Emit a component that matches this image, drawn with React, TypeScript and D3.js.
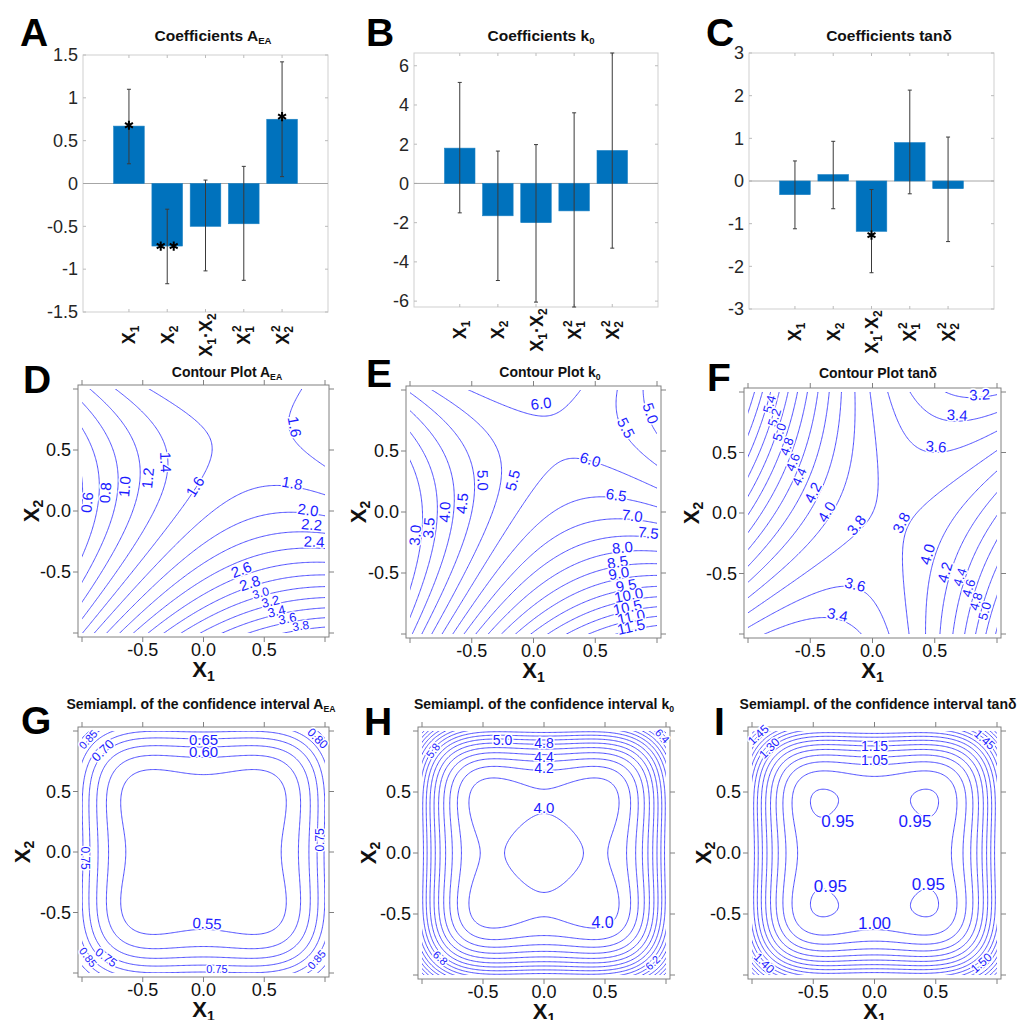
import React from "react";
import * as d3 from "d3";

const FONT = "'Liberation Sans', Arial, Helvetica, sans-serif";

// ---- model terms (coded units) ----
const terms = ["X1", "X2", "X1X2", "X1^2", "X2^2"];

// A_EA coefficients and 95% interval ends
const coefAEA = [0.67, -0.73, -0.5, -0.47, 0.75];
const lowAEA = [0.23, -1.17, -1.02, -1.13, 0.08];
const highAEA = [1.1, -0.3, 0.04, 0.2, 1.42];
const starsAEA = [1, 2, 0, 0, 1];
const starAtAEA = [0.68, -0.73, 0, 0, 0.78];

// k0 coefficients (panel B)
const coefK0 = [1.8, -1.65, -2.0, -1.4, 1.68];
const lowK0 = [-1.5, -4.95, -6.05, -6.3, -3.3];
const highK0 = [5.15, 1.65, 1.98, 3.6, 6.65];
const starsK0 = [0, 0, 0, 0, 0];
const starAtK0 = [0, 0, 0, 0, 0];

// tan delta coefficients (panel C)
const coefTan = [-0.32, 0.15, -1.18, 0.9, -0.18];
const lowTan = [-1.12, -0.65, -2.15, -0.3, -1.42];
const highTan = [0.47, 0.93, -0.2, 2.13, 1.03];
const starsTan = [0, 0, 1, 0, 0];
const starAtTan = [0, 0, -1.27, 0, 0];

// bar axis ticks
const ticksAEA = [-1.5, -1, -0.5, 0, 0.5, 1, 1.5];
const ticksK0 = [-6, -4, -2, 0, 2, 4, 6];
const ticksTan = [-3, -2, -1, 0, 1, 2, 3];

// intercepts of the fitted surfaces (centre values of D, E, F)
const intercepts = [1.75, 6.25, 3.8];

// experimental design (3^2 factorial + 2 extra centre runs)
const designX1 = [-1, -1, -1, 0, 0, 0, 1, 1, 1, 0, 0];
const designX2 = [-1, 0, 1, -1, 0, 1, -1, 0, 1, 0, 0];
// t * s for each response (half-width of the interval per unit sqrt leverage)
const ciScale = [1.062, 7.97, 1.94];

// contour levels
const levelsD = [0.6, 0.8, 1.0, 1.2, 1.4, 1.6, 1.8, 2.0, 2.2, 2.4, 2.6, 2.8, 3.0, 3.2, 3.4, 3.6, 3.8];
const levelsE = [3.0, 3.5, 4.0, 4.5, 5.0, 5.5, 6.0, 6.5, 7.0, 7.5, 8.0, 8.5, 9.0, 9.5, 10.0, 10.5, 11.0, 11.5];
const levelsF = [3.2, 3.4, 3.6, 3.8, 4.0, 4.2, 4.4, 4.6, 4.8, 5.0, 5.2, 5.4, 5.6, 5.8, 6.0];
const levelsG = [0.55, 0.6, 0.65, 0.7, 0.75, 0.8, 0.85, 0.9];
const levelsH = [4.0, 4.2, 4.4, 4.6, 4.8, 5.0, 5.2, 5.4, 5.6, 5.8, 6.0, 6.2, 6.4, 6.6, 6.8, 7.0];
const levelsI = [0.95, 1.0, 1.05, 1.1, 1.15, 1.2, 1.25, 1.3, 1.35, 1.4, 1.45, 1.5, 1.55, 1.6, 1.65, 1.7];

const axisTicks = [-1, -0.5, 0, 0.5, 1];

// contour labels: text, x1, x2, optional size / fixed rotation
type Lab = [string, number, number, number?, number?];
const labelsD: Lab[] = [
  ["0.6", -0.96, 0.07], ["0.8", -0.81, 0.15], ["1.0", -0.65, 0.2], ["1.2", -0.46, 0.27],
  ["1.4", -0.31, 0.4], ["1.6", -0.07, 0.2], ["1.6", 0.75, 0.69], ["1.8", 0.73, 0.23],
  ["2.0", 0.86, 0.01], ["2.2", 0.89, -0.11], ["2.4", 0.91, -0.25], ["2.6", 0.31, -0.48],
  ["2.8", 0.38, -0.59], ["3.0", 0.47, -0.67, 12], ["3.2", 0.55, -0.74, 13],
  ["3.4", 0.6, -0.82, 13], ["3.6", 0.69, -0.88, 13], ["3.8", 0.8, -0.94, 12],
];
const labelsE: Lab[] = [
  ["6.0", 0.06, 0.89], ["5.0", 0.95, 0.81], ["5.5", 0.75, 0.69], ["6.0", 0.46, 0.43],
  ["5.0", -0.41, 0.26], ["5.5", -0.17, 0.26], ["4.5", -0.58, 0.07], ["4.0", -0.72, 0.0],
  ["3.5", -0.85, -0.13], ["3.0", -0.96, -0.19], ["6.5", 0.67, 0.14], ["7.0", 0.8, -0.03],
  ["7.5", 0.93, -0.17], ["8.0", 0.72, -0.29], ["8.5", 0.68, -0.41], ["9.0", 0.69, -0.5],
  ["9.5", 0.75, -0.6], ["10.0", 0.77, -0.68], ["10.5", 0.76, -0.78], ["11.0", 0.79, -0.86],
  ["11.5", 0.79, -0.94],
];
const labelsF: Lab[] = [
  ["3.2", 0.86, 0.98], ["3.4", 0.68, 0.81], ["3.6", 0.51, 0.55], ["5.4", -0.83, 0.9, 13],
  ["5.2", -0.79, 0.79, 13], ["5.0", -0.75, 0.67, 13], ["4.8", -0.69, 0.55, 13],
  ["4.6", -0.64, 0.42, 13], ["4.4", -0.59, 0.3, 13], ["4.2", -0.48, 0.17], ["4.0", -0.37, 0.01],
  ["3.8", -0.13, -0.1], ["3.8", 0.23, -0.08], ["4.0", 0.44, -0.34], ["4.2", 0.58, -0.49],
  ["4.4", 0.7, -0.53, 13], ["4.6", 0.77, -0.62, 13], ["4.8", 0.83, -0.73, 13],
  ["5.0", 0.9, -0.81, 13], ["3.6", -0.14, -0.59], ["3.4", -0.28, -0.84],
];
const labelsG: Lab[] = [
  ["0.85", -0.95, 0.93, 11], ["0.70", -0.83, 0.84, 13], ["0.65", 0, 0.93], ["0.60", 0, 0.83],
  ["0.80", 0.94, 0.94, 12], ["0.75", -0.97, -0.05, 12, 90], ["0.75", 0.96, 0.1, 12, -90],
  ["0.55", 0.03, -0.59], ["0.75", 0.11, -0.97, 11, 0], ["0.85", -0.95, -0.87, 11],
  ["0.75", -0.8, -0.87, 12], ["0.85", 0.93, -0.89, 11],
];
const labelsH: Lab[] = [
  ["5.0", -0.34, 0.93, 14, 0], ["4.8", 0, 0.9, 14, 0], ["4.4", 0, 0.79, 14, 0], ["4.2", 0, 0.7, 14, 0],
  ["4.0", 0, 0.37, 15, 0], ["4.0", 0.48, -0.57, 16, 0], ["5.8", -0.91, 0.84, 11],
  ["6.4", 0.97, 0.96, 11], ["6.8", -0.85, -0.86, 11], ["6.2", 0.89, -0.9, 11],
];
const labelsI: Lab[] = [
  ["1.45", -0.95, 0.97, 12], ["1.30", -0.86, 0.86, 12], ["1.15", 0, 0.88, 14, 0],
  ["1.05", 0, 0.76, 14, 0], ["0.95", -0.3, 0.26, 17, 0], ["0.95", 0.33, 0.26, 17, 0],
  ["0.95", -0.36, -0.27, 17, 0], ["0.95", 0.44, -0.25, 17, 0], ["1.00", 0, -0.57, 17, 0],
  ["1.45", 0.9, 0.93, 12], ["1.50", 0.87, -0.9, 12], ["1.40", -0.9, -0.9, 12],
];

// ---- least squares helpers ----
const modelRow = (a: number, b: number) => [1, a, b, a * b, a * a, b * b];

function invert(m: number[][]) {
  const n = m.length;
  const a = m.map((r, i) => [...r, ...r.map((_, j) => (i === j ? 1 : 0))]);
  for (let c = 0; c < n; c++) {
    let p = c;
    for (let r = c + 1; r < n; r++) if (Math.abs(a[r][c]) > Math.abs(a[p][c])) p = r;
    [a[c], a[p]] = [a[p], a[c]];
    const pv = a[c][c];
    for (let j = 0; j < 2 * n; j++) a[c][j] /= pv;
    for (let r = 0; r < n; r++) {
      if (r === c) continue;
      const f = a[r][c];
      for (let j = 0; j < 2 * n; j++) a[r][j] -= f * a[c][j];
    }
  }
  return a.map(r => r.slice(n));
}

const X = designX1.map((a, i) => modelRow(a, designX2[i]));
const XtXinv = invert(
  d3.range(6).map(i => d3.range(6).map(j => d3.sum(X, r => r[i] * r[j])))
);
function leverage(a: number, b: number) {
  const v = modelRow(a, b);
  let s = 0;
  for (let i = 0; i < 6; i++) for (let j = 0; j < 6; j++) s += v[i] * XtXinv[i][j] * v[j];
  return s;
}

const surface = (b0: number, c: number[]) => (a: number, b: number) =>
  b0 + c[0] * a + c[1] * b + c[2] * a * b + c[3] * a * a + c[4] * b * b;
const semiAmpl = (k: number) => (a: number, b: number) => k * Math.sqrt(leverage(a, b));

// ---- small text helpers ----
function Title({ x, y, main, sub, size }: any) {
  return (
    <text x={x} y={y} textAnchor="middle" fontFamily={FONT} fontWeight="bold" fontSize={size} fill="#111">
      <tspan>{main}</tspan>
      {sub ? <tspan fontSize={size * 0.62} dy={3}>{sub}</tspan> : null}
    </text>
  );
}

function TermLabel({ term, x, y }: any) {
  const fs = 18, ss = 12;
  let parts: any[] = [];
  if (term === "X1" || term === "X2") {
    parts = [<tspan key="a">X</tspan>, <tspan key="b" fontSize={ss} dy={4}>{term[1]}</tspan>];
  } else if (term === "X1X2") {
    parts = [
      <tspan key="a">X</tspan>, <tspan key="b" fontSize={ss} dy={4}>1</tspan>,
      <tspan key="c" dy={-4}>·X</tspan>, <tspan key="d" fontSize={ss} dy={4}>2</tspan>,
    ];
  } else {
    parts = [
      <tspan key="a">X</tspan>, <tspan key="b" fontSize={ss} dy={4}>{term[1]}</tspan>,
      <tspan key="c" fontSize={ss} dx={-6} dy={-13}>2</tspan>,
    ];
  }
  return (
    <text transform={`translate(${x},${y}) rotate(-90)`} textAnchor="middle" fontFamily={FONT}
      fontWeight="bold" fontSize={fs} fill="#111">{parts}</text>
  );
}

function Star({ x, y }: any) {
  const r = 4.6;
  const d = [90, 30, -30].map(a => {
    const t = (a * Math.PI) / 180;
    return `M${x - r * Math.cos(t)},${y - r * Math.sin(t)}L${x + r * Math.cos(t)},${y + r * Math.sin(t)}`;
  }).join("");
  return <path d={d} stroke="#000" strokeWidth={2} />;
}

// ---- bar chart panel ----
function BarPanel({ p }: any) {
  const x = d3.scaleLinear().domain([-0.2, 6.2]).range([p.left, p.right]);
  const y = d3.scaleLinear().domain(p.yDomain).range([p.bottom, p.top]);
  const bw = x(0.8) - x(0);
  const pos = terms.map((_, i) => i + 1);
  return (
    <g>
      <text x={p.letterX} y={46} fontFamily={FONT} fontWeight="bold" fontSize={39} fill="#000">{p.letter}</text>
      <Title x={p.titleX} y={41} main={p.title[0]} sub={p.title[1]} size={15.5} />
      <rect x={p.left} y={p.top} width={p.right - p.left} height={p.bottom - p.top} fill="#fff" stroke="#cfcfcf" />
      {p.ticks.map((t: number) => (
        <g key={t}>
          <line x1={p.left} x2={p.left + 3} y1={y(t)} y2={y(t)} stroke="#bbb" />
          <line x1={p.right - 3} x2={p.right} y1={y(t)} y2={y(t)} stroke="#bbb" />
          <text x={p.left - 5} y={y(t)} dy="0.35em" textAnchor="end" fontFamily={FONT} fontSize={18} fill="#262626">{String(t)}</text>
        </g>
      ))}
      {pos.map(c => (
        <g key={c}>
          <line x1={x(c)} x2={x(c)} y1={p.top} y2={p.top + 3} stroke="#bbb" />
          <line x1={x(c)} x2={x(c)} y1={p.bottom - 3} y2={p.bottom} stroke="#bbb" />
        </g>
      ))}
      <line x1={p.left} x2={p.right} y1={y(0)} y2={y(0)} stroke="#a6a6a6" />
      {p.coef.map((v: number, i: number) => (
        <rect key={i} x={x(pos[i]) - bw / 2} width={bw} y={Math.min(y(v), y(0))}
          height={Math.abs(y(v) - y(0))} fill="#0072BD" stroke="#1a80c4" strokeWidth={0.6} />
      ))}
      {p.coef.map((v: number, i: number) => {
        const cx = x(pos[i]);
        return (
          <g key={i} stroke="#3a3a3a" strokeWidth={1}>
            <line x1={cx} x2={cx} y1={y(p.low[i])} y2={y(p.high[i])} />
            <line x1={cx - 2} x2={cx + 2} y1={y(p.low[i])} y2={y(p.low[i])} />
            <line x1={cx - 2} x2={cx + 2} y1={y(p.high[i])} y2={y(p.high[i])} />
          </g>
        );
      })}
      {p.stars.map((n: number, i: number) =>
        d3.range(n).map(k => (
          <Star key={`${i}-${k}`} x={x(pos[i]) + (n === 1 ? 0 : (k - 0.5) * 13)} y={y(p.starAt[i])} />
        ))
      )}
      {terms.map((t, i) => (
        <TermLabel key={t} term={t} x={x(pos[i]) + 6.5} y={p.bottom + 23} />
      ))}
    </g>
  );
}

// ---- contour panel ----
function ContourPanel({ p }: any) {
  const sx = d3.scaleLinear().domain([-1, 1]).range([p.left, p.right]);
  const sy = d3.scaleLinear().domain([-1, 1]).range([p.bottom, p.top]);
  const N = 221, lo = -1.1, st = 0.01;
  const vals: number[] = new Array(N * N);
  for (let j = 0; j < N; j++)
    for (let i = 0; i < N; i++) vals[j * N + i] = p.field(lo + i * st, lo + j * st);
  const polys = d3.contours().size([N, N]).thresholds(p.levels)(vals);
  const proj = d3.geoTransform({
    point(gx: number, gy: number) {
      (this as any).stream.point(sx(lo + (gx - 0.5) * st), sy(lo + (gy - 0.5) * st));
    },
  });
  const path = d3.geoPath(proj);
  const pad = 4;
  const bx0 = p.left - pad, bx1 = p.right + pad, by0 = p.top - pad, by1 = p.bottom + pad;
  const kx = (p.right - p.left) / 2, ky = (p.bottom - p.top) / 2;
  const clipId = `clip-${p.letter}`;

  const labAngle = (a: number, b: number) => {
    const h = 1e-3;
    const ga = (p.field(a + h, b) - p.field(a - h, b)) / (2 * h) / kx;
    const gb = -(p.field(a, b + h) - p.field(a, b - h)) / (2 * h) / ky;
    let ang = (Math.atan2(ga, -gb) * 180) / Math.PI;
    while (ang > 90) ang -= 180;
    while (ang <= -90) ang += 180;
    return ang;
  };

  return (
    <g>
      <defs>
        <clipPath id={clipId}>
          <rect x={p.left} y={p.top} width={p.right - p.left} height={p.bottom - p.top} />
        </clipPath>
      </defs>
      <text x={p.letterPos[0]} y={p.letterPos[1]} fontFamily={FONT} fontWeight="bold" fontSize={39} fill="#000">{p.letter}</text>
      <Title x={p.titleX} y={p.titleY} main={p.title[0]} sub={p.title[1]} size={14} />
      <rect x={bx0} y={by0} width={bx1 - bx0} height={by1 - by0} fill="#fff" stroke="#808080" />
      {axisTicks.map(t => (
        <g key={t} stroke="#808080">
          <line x1={sx(t)} x2={sx(t)} y1={by0} y2={by0 - 5} />
          <line x1={sx(t)} x2={sx(t)} y1={by1} y2={by1 + 5} />
          <line x1={bx0} x2={bx0 - 5} y1={sy(t)} y2={sy(t)} />
          <line x1={bx1} x2={bx1 + 5} y1={sy(t)} y2={sy(t)} />
        </g>
      ))}
      {axisTicks.filter(t => Math.abs(t) < 1).map(t => (
        <g key={t} fontFamily={FONT} fontSize={18} fill="#111">
          <text x={bx0 - 7} y={sy(t)} dy="0.36em" textAnchor="end">{t.toFixed(1)}</text>
          <text x={sx(t)} y={by1 + 19} textAnchor="middle">{t.toFixed(1)}</text>
        </g>
      ))}
      <text x={sx(0)} y={by1 + 40} textAnchor="middle" fontFamily={FONT} fontWeight="bold" fontSize={22} fill="#111">
        X<tspan fontSize={14} dy={4}>1</tspan>
      </text>
      <text transform={`translate(${p.x2LabelX},${sy(0)}) rotate(-90)`} textAnchor="middle" fontFamily={FONT}
        fontWeight="bold" fontSize={22} fill="#111">
        X<tspan fontSize={14} dy={4}>2</tspan>
      </text>
      <g clipPath={`url(#${clipId})`}>
        {polys.map((c, i) => (
          <path key={i} d={path(c as any) || ""} fill="none" stroke="#3b3bff" strokeWidth={0.9} />
        ))}
      </g>
      {p.labels.map((l: Lab, i: number) => {
        const [txt, a, b, size, rot] = l;
        const ang = rot !== undefined ? rot : labAngle(a, b);
        return (
          <text key={i} transform={`translate(${sx(a)},${sy(b)}) rotate(${ang})`} textAnchor="middle"
            dy="0.36em" fontFamily={FONT} fontSize={size || 15} fill="#1c1cff" stroke="#fff"
            strokeWidth={3} paintOrder="stroke" strokeLinejoin="round">{txt}</text>
        );
      })}
    </g>
  );
}

const barPanels = [
  { letter: "A", title: ["Coefficients A", "EA"], coef: coefAEA, low: lowAEA, high: highAEA, stars: starsAEA, starAt: starAtAEA,
    yDomain: [-1.5, 1.5], ticks: ticksAEA, left: 83, right: 328, top: 55, bottom: 312, letterX: 20, titleX: 213 },
  { letter: "B", title: ["Coefficients k", "0"], coef: coefK0, low: lowK0, high: highK0, stars: starsK0, starAt: starAtK0,
    yDomain: [-6.3, 6.65], ticks: ticksK0, left: 414, right: 658, top: 53, bottom: 307, letterX: 366, titleX: 541 },
  { letter: "C", title: ["Coefficients tanδ", ""], coef: coefTan, low: lowTan, high: highTan, stars: starsTan, starAt: starAtTan,
    yDomain: [-3, 3], ticks: ticksTan, left: 749, right: 994, top: 53, bottom: 309, letterX: 706, titleX: 889 },
];

const contourPanels = [
  { letter: "D", title: ["Contour Plot A", "EA"], field: surface(intercepts[0], coefAEA), levels: levelsD, labels: labelsD,
    left: 82, right: 325, top: 389, bottom: 633, letterPos: [23, 393], titleX: 227, titleY: 377, x2LabelX: 39 },
  { letter: "E", title: ["Contour Plot k", "0"], field: surface(intercepts[1], coefK0), levels: levelsE, labels: labelsE,
    left: 410, right: 657, top: 390, bottom: 634, letterPos: [366, 387], titleX: 550, titleY: 377, x2LabelX: 366 },
  { letter: "F", title: ["Contour Plot tanδ", ""], field: surface(intercepts[2], coefTan), levels: levelsF, labels: labelsF,
    left: 748, right: 997, top: 392, bottom: 634, letterPos: [707, 391], titleX: 878, titleY: 378, x2LabelX: 699 },
  { letter: "G", title: ["Semiampl. of the confidence interval A", "EA"], field: semiAmpl(ciScale[0]), levels: levelsG, labels: labelsG,
    left: 82, right: 325, top: 731, bottom: 973, letterPos: [21, 734], titleX: 201, titleY: 709, x2LabelX: 30 },
  { letter: "H", title: ["Semiampl. of the confidence interval k", "0"], field: semiAmpl(ciScale[1]), levels: levelsH, labels: labelsH,
    left: 422, right: 666, top: 731, bottom: 975, letterPos: [364, 735], titleX: 544, titleY: 709, x2LabelX: 376 },
  { letter: "I", title: ["Semiampl. of the confidence interval tanδ", ""], field: semiAmpl(ciScale[2]), levels: levelsI, labels: labelsI,
    left: 752, right: 997, top: 731, bottom: 975, letterPos: [714, 735], titleX: 878, titleY: 709, x2LabelX: 711 },
];

export default function App() {
  return (
    <svg width={1021} height={1020} viewBox="0 0 1021 1020"
      style={{ display: "block", position: "absolute", left: 0, top: 0, background: "#fff" }}>
      <rect width={1021} height={1020} fill="#fff" />
      {barPanels.map(p => <BarPanel key={p.letter} p={p} />)}
      {contourPanels.map(p => <ContourPanel key={p.letter} p={p} />)}
    </svg>
  );
}
